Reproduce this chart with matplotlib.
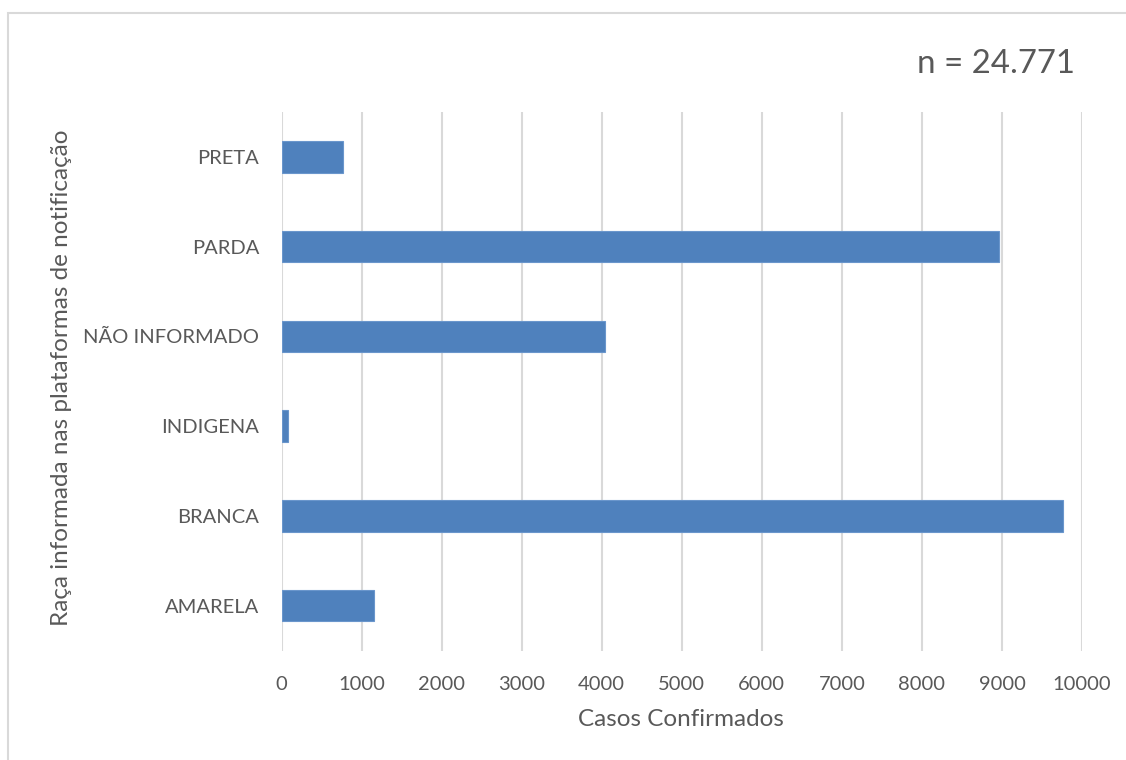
import matplotlib
matplotlib.use("Agg")
import matplotlib.pyplot as plt
from matplotlib.patches import Rectangle

# Confirmed cases by race as reported on the notification platforms
categories = ["AMARELA", "BRANCA", "INDIGENA", "NÃO INFORMADO", "PARDA", "PRETA"]
cases = [1155, 9767, 77, 4041, 8963, 764]
total_label = "n = 24.771"
x_ticks = list(range(0, 10001, 1000))

TEXT = "#595959"
GRID = "#D9D9D9"
BAR = "#4F81BD"

plt.rcParams["font.family"] = ["Lato", "DejaVu Sans"]

W, H = 1126, 760
fig = plt.figure(figsize=(W / 100, H / 100), dpi=100)
ax = fig.add_axes([281.5 / W, 1 - 650.5 / H, 800.5 / W, 538.5 / H])

ypos = list(range(len(categories)))
ax.barh(ypos, cases, height=0.35, color=BAR, edgecolor="#6A96CC", linewidth=0.8, zorder=3)

ax.set_xlim(0, 10000)
ax.set_ylim(-0.5, len(categories) - 0.5)
ax.set_xticks(x_ticks)
ax.set_xticklabels([str(t) for t in x_ticks])
ax.set_yticks(ypos)
ax.set_yticklabels(categories)

ax.grid(axis="x", color=GRID, linewidth=1.5, zorder=0)
ax.grid(axis="y", visible=False)
for s in ax.spines.values():
    s.set_visible(False)
ax.tick_params(axis="both", length=0, colors=TEXT, labelsize=14.5)
ax.tick_params(axis="y", pad=16)
ax.tick_params(axis="x", pad=18)

fig.text(681 / W, 1 - 720 / H, "Casos Confirmados", fontsize=17.5, color=TEXT,
         ha="center", va="center")
fig.text(62 / W, 1 - 378 / H, "Raça informada nas plataformas de notificação",
         fontsize=17.5, color=TEXT, rotation=90, ha="center", va="center")

fig.text(1075 / W, 1 - 64 / H, total_label, fontsize=23.8, color=TEXT,
         ha="right", va="center")

# Chart area frame
fig.patches.append(Rectangle((8 / W, -0.2), 1.2, 1.2 - 13 / H,
                             transform=fig.transFigure, fill=False,
                             edgecolor=GRID, linewidth=1.5))

fig.savefig("out.png", dpi=100)
